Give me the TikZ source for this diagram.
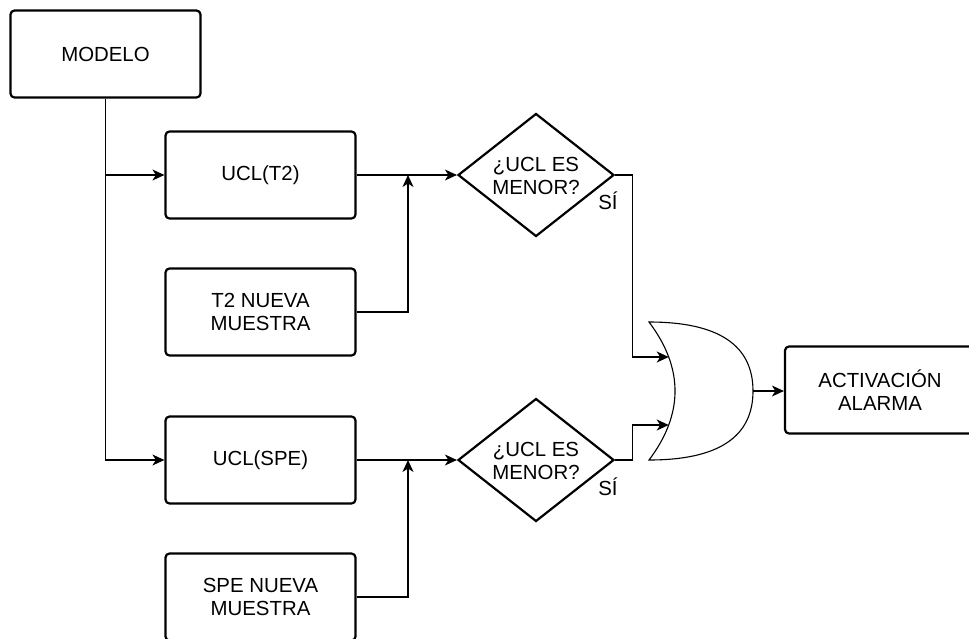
\documentclass[tikz,border=0pt]{standalone}
\usepackage{fontspec}
\setmainfont{Liberation Sans}
\usetikzlibrary{arrows.meta,shapes.geometric,calc}

\tikzset{
  box/.style={draw, line width=2.2pt, rounded corners=4pt, minimum width=190pt,
              minimum height=87pt, inner sep=0pt, align=center},
  decision/.style={draw, line width=2.2pt, shape=diamond, minimum width=156pt,
                   minimum height=123pt, inner sep=0pt},
  label/.style={inner sep=0pt, align=center},
  link/.style={line width=1.1pt, -{Stealth[length=12pt,width=11pt,inset=3.5pt]}},
}

\begin{document}
\begin{tikzpicture}[x=1pt, y=-1pt, font=\fontsize{20.4}{23}\selectfont]
\useasboundingbox (0,0) rectangle (969,638);

% source and limits
\node[box] (modelo) at (105.5,54) {MODELO};
\node[box] (uclt2)  at (260.5,175) {UCL(T2)};
\node[box] (t2new)  at (260.5,312) {T2 NUEVA\\MUESTRA};
\node[box] (uclspe) at (260.5,460) {UCL(SPE)};
\node[box] (spenew) at (260.5,597) {SPE NUEVA\\MUESTRA};

% comparisons
\node[decision] (d1) at (536,175) {};
\node[label] (d1t) at (536,176) {¿UCL ES\\MENOR?};
\node[label] (si1) at (608,201) {SÍ};
\node[decision] (d2) at (536,460) {};
\node[label] (d2t) at (536,461) {¿UCL ES\\MENOR?};
\node[label] (si2) at (608,487) {SÍ};

% alarm
\node[box] (alarma) at (880,390) {ACTIVACIÓN\\ALARMA};

% OR gate
\draw[line width=1.1pt, fill=white]
  (649,322) .. controls (718.3,322) and (753,345) .. (753,391)
            .. controls (753,437) and (718.3,460) .. (649,460)
            .. controls (683.7,414) and (683.7,368) .. (649,322) -- cycle;
\coordinate (orin1) at (668.7,357);
\coordinate (orin2) at (668.7,425);
\coordinate (orout) at (753,391);

% junctions where the new samples join
\coordinate (j1) at (408,175);
\coordinate (j2) at (408,460);

% connectors
\draw[link] (modelo.south) |- (uclt2.west);
\draw[link] (modelo.south) |- (uclspe.west);
\draw[link] (uclt2.east) -- (d1.west);
\draw[link] (uclspe.east) -- (d2.west);
\draw[link] (t2new.east) -| (j1);
\draw[link] (spenew.east) -| (j2);
\draw[link] (d1.east) -- ++(17,0) |- (orin1);
\draw[link] (d2.east) -- ++(17,0) |- (orin2);
\draw[link] (orout) -- (orout -| alarma.west);
\end{tikzpicture}
\end{document}
